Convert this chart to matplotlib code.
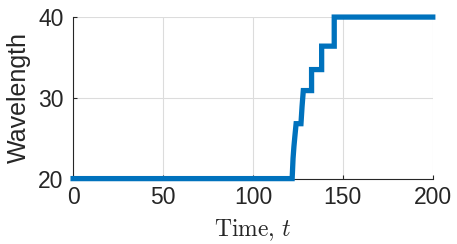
import matplotlib
matplotlib.use("Agg")
import matplotlib.pyplot as plt

# wavelength vs time
time = [0, 121.8, 122.3, 122.8, 123.3, 124.0, 126.7, 127.3, 128.0, 132.6, 132.6, 138.2, 138.2, 145.2, 145.2, 200]
wavelength = [20, 20, 22.5, 24.0, 25.2, 26.8, 26.8, 28.9, 30.9, 30.9, 33.5, 33.5, 36.4, 36.4, 40, 40]

xticks = [0, 50, 100, 150, 200]
yticks = [20, 30, 40]

plt.rcParams['font.family'] = ['Liberation Sans', 'DejaVu Sans']
plt.rcParams['mathtext.fontset'] = 'cm'

fig = plt.figure(figsize=(4.57, 2.44), dpi=100)
ax = fig.add_axes([0.16, 0.268, 0.787, 0.662])

ax.plot(time, wavelength, color='#0072BD', lw=3.8, solid_joinstyle='miter', clip_on=False, zorder=3)

ax.set_xlim(0, 200)
ax.set_ylim(20, 40)
ax.set_xticks(xticks)
ax.set_yticks(yticks)
ax.grid(True, color='#dcdcdc', lw=0.8)
ax.set_axisbelow(True)
for s in ['top', 'right']:
    ax.spines[s].set_visible(False)
for s in ['left', 'bottom']:
    ax.spines[s].set_color('#262626')
    ax.spines[s].set_linewidth(0.8)
ax.tick_params(direction='in', length=3, colors='#262626', labelsize=16.5)
ax.tick_params(axis='x', pad=5)
ax.tick_params(axis='y', pad=7)

ax.set_ylabel('Wavelength', fontsize=18, color='#262626', labelpad=5)
ax.set_xlabel(r'$\mathrm{Time},\,t$', fontsize=17, color='#262626', labelpad=6)

fig.savefig('out.png', dpi=100)
